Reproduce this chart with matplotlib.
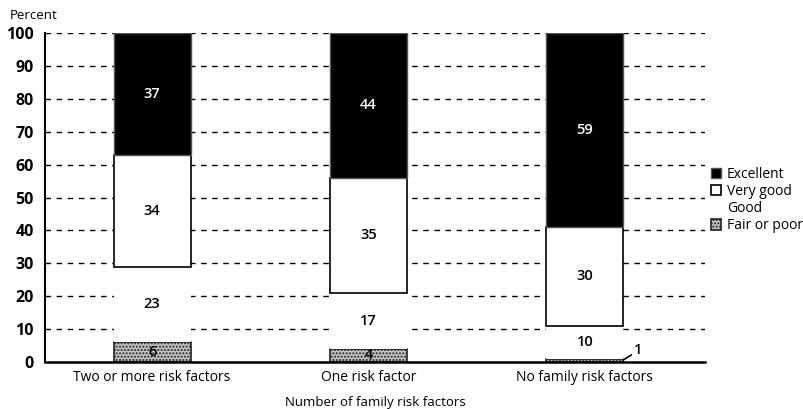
import matplotlib
matplotlib.use('Agg')
import matplotlib.pyplot as plt
import numpy as np

plt.rcParams['font.family'] = ['Open Sans', 'DejaVu Sans']

# data
groups = ['Two or more risk factors', 'One risk factor', 'No family risk factors']
fair_poor = [6, 4, 1]
good = [23, 17, 10]
very_good = [34, 35, 30]
excellent = [37, 44, 59]

fig = plt.figure(figsize=(8.04, 4.09), dpi=100)
ax = fig.add_axes([0.056, 0.115, 0.821, 0.804])

x = np.arange(len(groups))
w = 0.356

# gridlines behind everything
for yv in range(10, 101, 10):
    ax.axhline(yv, color='black', lw=1.0, ls=(0, (4, 4)), zorder=0)

b_fp = ax.bar(x, fair_poor, w, color='#c4c4c4', edgecolor='#222222',
              hatch='.....', lw=1.2, zorder=2)
bottom = np.array(fair_poor)
b_g = ax.bar(x, good, w, bottom=bottom, color='white', lw=0, zorder=2)
bottom = bottom + np.array(good)
b_vg = ax.bar(x, very_good, w, bottom=bottom, color='white', edgecolor='black',
              lw=1.2, zorder=2)
bottom2 = bottom + np.array(very_good)
b_ex = ax.bar(x, excellent, w, bottom=bottom2, color='black', edgecolor='#555555',
              lw=1.0, zorder=2)

# segment labels
lab = dict(ha='center', va='center', fontsize=10.5, fontweight='semibold', zorder=5)
for i in range(len(groups)):
    if fair_poor[i] > 2:
        ax.text(x[i], fair_poor[i] / 2, str(fair_poor[i]), **lab)
    else:
        ax.annotate(str(fair_poor[i]), xy=(x[i] + w / 2, fair_poor[i] * 0.6),
                    xytext=(x[i] + w / 2 + 0.05, 3.5), ha='left', va='center',
                    fontsize=10.5, fontweight='semibold',
                    arrowprops=dict(arrowstyle='-', color='black', lw=1.2,
                                    shrinkA=0, shrinkB=0))
    ax.text(x[i], fair_poor[i] + good[i] / 2, str(good[i]), **lab)
    ax.text(x[i], bottom[i] + very_good[i] / 2, str(very_good[i]), **lab)
    ax.text(x[i], bottom2[i] + excellent[i] / 2, str(excellent[i]), color='white', **lab)

ax.set_xlim(-0.495, 2.556)
ax.set_ylim(0, 100)
ax.set_yticks(range(0, 101, 10))
ax.set_yticklabels([str(v) for v in range(0, 101, 10)], fontweight='bold', fontsize=11.5)
ax.set_xticks(x)
ax.set_xticklabels(groups, fontsize=10)
ax.tick_params(length=0, pad=6)
ax.tick_params(axis='y', pad=8)
for s in ['top', 'right']:
    ax.spines[s].set_visible(False)
ax.spines['left'].set_linewidth(1.5)
ax.spines['bottom'].set_linewidth(1.8)

ax.set_xlabel('Number of family risk factors', fontsize=9.5, labelpad=8)
fig.text(0.012, 0.963, 'Percent', fontsize=9.5, ha='left', va='center')

leg = fig.legend([b_ex, b_vg, b_g, b_fp], ['Excellent', 'Very good', 'Good', 'Fair or poor'],
                 loc='upper left', bbox_to_anchor=(0.877, 0.605), frameon=False,
                 fontsize=10, handlelength=0.75, handleheight=0.75,
                 handletextpad=0.4, labelspacing=0.15, borderaxespad=0)

fig.savefig('out.png', dpi=100)
